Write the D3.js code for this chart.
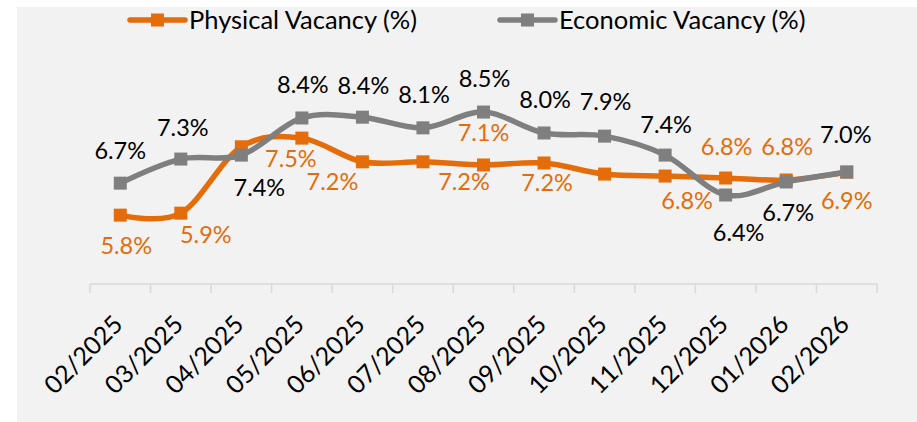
<!DOCTYPE html>
<html>
<head>
<meta charset="utf-8">
<script src="https://cdn.jsdelivr.net/npm/d3@7"></script>
<style>
  body { margin: 0; background: #fff; }
  svg { display: block; font-family: Lato, "Noto Sans", sans-serif; }
</style>
</head>
<body>
<svg id="chart" width="917" height="422"></svg>
<script>
// categories and series
var months = ["02/2025","03/2025","04/2025","05/2025","06/2025","07/2025","08/2025",
              "09/2025","10/2025","11/2025","12/2025","01/2026","02/2026"];
var physical = [5.89, 5.94, 7.62, 7.84, 7.24, 7.24, 7.16, 7.21, 6.93, 6.88, 6.83, 6.78, 6.98];
var economic = [6.70, 7.31, 7.41, 8.35, 8.37, 8.10, 8.50, 7.97, 7.89, 7.41, 6.40, 6.73, 6.98];

// data label texts as printed (null = no label)
var physicalLabels = ["5.8%","5.9%",null,"7.5%","7.2%","7.2%","7.1%","7.2%",null,"6.8%","6.8%","6.8%","6.9%"];
var economicLabels = ["6.7%","7.3%","7.4%","8.4%","8.4%","8.1%","8.5%","8.0%","7.9%","7.4%","6.4%","6.7%","7.0%"];

var seriesNames = ["Physical Vacancy (%)", "Economic Vacancy (%)"];

// label placement relative to its point (layout only)
var physicalLabelPos = [[6,30],[25,21],null,[-11,20],[-30,20],[41,20],[0,-32],[3,20],null,[22,24],[1,-31],[1,-33],[0,28]];
var economicLabelPos = [[0,-33],[2,-32],[18,32],[1,-33],[1,-32],[1,-33],[1,-34],[1,-33],[1,-35],[1,-31],[13,38],[2,31],[-1,-38]];

var orange = "#e46c0a", grey = "#7f7f7f";

var svg = d3.select("#chart");

// plot panel
svg.append("rect")
    .attr("x", 17).attr("y", 7)
    .attr("width", 900).attr("height", 415)
    .attr("fill", "#f2f2f2");

var x = d3.scaleBand()
    .domain(months)
    .range([90, 877]);

var y = d3.scaleLinear()
    .domain([5, 9])
    .range([250.3, 92.3]);

function cx(d, i) { return x(months[i]) + x.bandwidth() / 2; }

// category axis, ticks between categories
var axisY = 284;
var g = svg.append("g");
g.append("line")
    .attr("x1", 90).attr("x2", 877)
    .attr("y1", axisY).attr("y2", axisY)
    .attr("stroke", "#d9d9d9").attr("stroke-width", 1.5);

var edges = months.map(function(m){ return x(m); }).concat([877]);
g.selectAll(".tick")
    .data(edges)
    .enter().append("line")
    .attr("x1", function(d){ return d; })
    .attr("x2", function(d){ return d; })
    .attr("y1", axisY).attr("y2", axisY + 9)
    .attr("stroke", "#d9d9d9").attr("stroke-width", 1.5);

g.selectAll(".lbl")
    .data(months)
    .enter().append("text")
    .attr("transform", function(d){
        return "translate(" + (x(d) + x.bandwidth() / 2 + 4) + "," + 326 + ") rotate(-45)";
    })
    .attr("text-anchor", "end")
    .attr("font-size", 25)
    .attr("fill", "#000")
    .text(function(d){ return d; });

var line = d3.line()
    .x(cx)
    .y(function(d){ return y(d); })
    .curve(d3.curveCatmullRom.alpha(0));

function drawSeries(values, color) {
    svg.append("path")
        .attr("d", line(values))
        .attr("fill", "none")
        .attr("stroke", color)
        .attr("stroke-width", 5.5)
        .attr("stroke-linecap", "round");

    svg.append("g").selectAll("rect")
        .data(values)
        .enter().append("rect")
        .attr("x", function(d, i){ return cx(d, i) - 6.5; })
        .attr("y", function(d){ return y(d) - 6.5; })
        .attr("width", 13).attr("height", 13)
        .attr("fill", color);
}

function drawLabels(values, labels, pos, color) {
    var items = values.map(function(v, i){
        return {v: v, i: i, text: labels[i], pos: pos[i]};
    }).filter(function(d){ return d.text !== null; });

    svg.append("g").selectAll("text")
        .data(items)
        .enter().append("text")
        .attr("x", function(d){ return cx(d.v, d.i) + d.pos[0]; })
        .attr("y", function(d){ return y(d.v) + d.pos[1]; })
        .attr("dy", "0.36em")
        .attr("text-anchor", "middle")
        .attr("font-size", 23.5)
        .attr("fill", color)
        .text(function(d){ return d.text; });
}

drawSeries(physical, orange);
drawSeries(economic, grey);
drawLabels(physical, physicalLabels, physicalLabelPos, orange);
drawLabels(economic, economicLabels, economicLabelPos, "#000");

// legend
var legend = [
    {name: seriesNames[0], color: orange, x: 130},
    {name: seriesNames[1], color: grey, x: 500}
];
var lg = svg.append("g").selectAll("g")
    .data(legend)
    .enter().append("g")
    .attr("transform", function(d){ return "translate(" + d.x + ",20)"; });
lg.append("line")
    .attr("x1", 0).attr("x2", 55)
    .attr("stroke", function(d){ return d.color; })
    .attr("stroke-width", 5.5)
    .attr("stroke-linecap", "round");
lg.append("rect")
    .attr("x", 21).attr("y", -6.5)
    .attr("width", 13).attr("height", 13)
    .attr("fill", function(d){ return d.color; });
lg.append("text")
    .attr("x", 59)
    .attr("dy", "0.36em")
    .attr("font-size", 25.5)
    .attr("fill", "#000")
    .text(function(d){ return d.name; });
</script>
</body>
</html>
